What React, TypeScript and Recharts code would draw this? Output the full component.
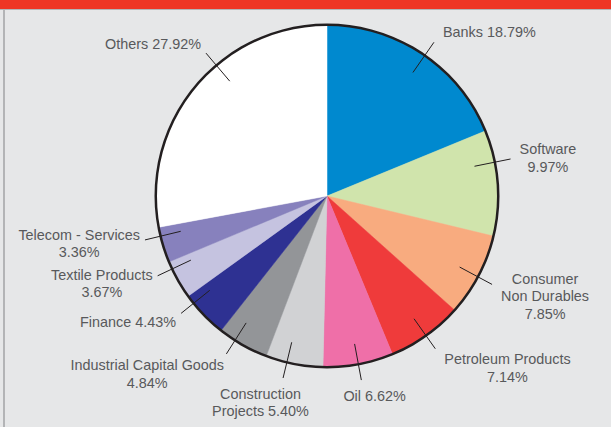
import { PieChart, Pie, Cell } from "recharts";

const categories = [
  "Banks",
  "Software",
  "Consumer Non Durables",
  "Petroleum Products",
  "Oil",
  "Construction Projects",
  "Industrial Capital Goods",
  "Finance",
  "Textile Products",
  "Telecom - Services",
  "Others",
];
const shares = [18.79, 9.97, 7.85, 7.14, 6.62, 5.4, 4.84, 4.43, 3.67, 3.36, 27.92];

// how each label is broken into lines, and whether the % sits on its own line
const labelNames = [
  ["Banks"],
  ["Software"],
  ["Consumer", "Non Durables"],
  ["Petroleum Products"],
  ["Oil"],
  ["Construction", "Projects"],
  ["Industrial Capital Goods"],
  ["Finance"],
  ["Textile Products"],
  ["Telecom - Services"],
  ["Others"],
];
const pctOwnLine = [false, true, true, true, false, false, true, false, true, true, false];

const colors = [
  "#0089cf", "#d0e4ac", "#f8ab7f", "#ef3b3b", "#ef6fa8", "#d1d2d4",
  "#939598", "#2e3192", "#c5c3e0", "#8781bd", "#ffffff",
];
// leader lines are nudged a little off the slice middle (degrees, clockwise)
const leaderShift = [1, -7, 0.5, 0, 0, 2.5, 3, 5, 4, 3, 10];

const data = categories.map((name, i) => ({ name, value: shares[i] }));
const ring = [{ name: "ring", value: 1 }];

const FONT = '14.4px "Liberation Sans", Arial, sans-serif';
const LH = 17.5;
const RAD = Math.PI / 180;

let ctx: CanvasRenderingContext2D | null = null;
function textWidth(s: string) {
  if (!ctx) {
    ctx = document.createElement("canvas").getContext("2d");
    if (ctx) ctx.font = FONT;
  }
  return ctx ? ctx.measureText(s).width : s.length * 7;
}

function renderLabel(props: any) {
  const { cx, cy, midAngle, outerRadius, index } = props;
  const ang = (midAngle - leaderShift[index]) * RAD;
  const dx = Math.cos(ang);
  const dy = -Math.sin(ang);
  const r1 = outerRadius * 0.88;
  const r2 = outerRadius * 1.095;
  const ex = cx + r2 * dx;
  const ey = cy + r2 * dy;

  const pct = shares[index].toFixed(2) + "%";
  const lines = [...labelNames[index]];
  if (pctOwnLine[index]) lines.push(pct);
  else lines[lines.length - 1] = lines[lines.length - 1] + " " + pct;

  const w = Math.max(...lines.map(textWidth));
  const h = lines.length * LH;
  const pad = dx > 0 ? 9 : 5;
  const f = Math.min(1, Math.abs(dx) * 1.8);
  const tx = ex + Math.sign(dx) * (w / 2 + pad) * f;
  const ty = ey + dy * Math.sqrt(Math.abs(dy)) * (h / 2 + 7);
  const top = ty - h / 2;

  return (
    <g key={`lbl-${index}`}>
      <line
        x1={cx + r1 * dx}
        y1={cy + r1 * dy}
        x2={ex}
        y2={ey}
        stroke="#231f20"
        strokeWidth={1}
      />
      <text textAnchor="middle" fill="#58595b" style={{ font: FONT }}>
        {lines.map((ln, i) => (
          <tspan key={i} x={tx} y={top + LH * i + LH / 2 + 6}>
            {ln}
          </tspan>
        ))}
      </text>
    </g>
  );
}

export default function App() {
  return (
    <div
      style={{
        position: "absolute",
        top: 0,
        left: 0,
        width: 611,
        height: 427,
        background: "#e6e7e8",
        overflow: "hidden",
      }}
    >
      <div style={{ position: "absolute", top: 0, left: 0, width: 611, height: 9, background: "#ee3524" }} />
      <div style={{ position: "absolute", top: 9, left: 0, width: 611, height: 1, background: "#b3b4b6" }} />
      <div style={{ position: "absolute", top: 9, left: 3, width: 2, height: 418, background: "#b3b4b6" }} />
      <div style={{ position: "absolute", top: 0, left: 0 }}>
        <PieChart width={611} height={427} margin={{ top: 0, right: 0, bottom: 0, left: 0 }}>
          <Pie
            data={data}
            dataKey="value"
            nameKey="name"
            cx={327}
            cy={196}
            outerRadius={171}
            startAngle={90}
            endAngle={-270}
            label={renderLabel}
            labelLine={false}
            isAnimationActive={false}
          >
            {data.map((d, i) => (
              <Cell key={d.name} fill={colors[i]} stroke={colors[i]} strokeWidth={0.5} />
            ))}
          </Pie>
          <Pie
            data={ring}
            dataKey="value"
            cx={327}
            cy={196}
            innerRadius={170}
            outerRadius={172.5}
            startAngle={90}
            endAngle={-270}
            fill="#231f20"
            stroke="none"
            isAnimationActive={false}
          />
        </PieChart>
      </div>
    </div>
  );
}
